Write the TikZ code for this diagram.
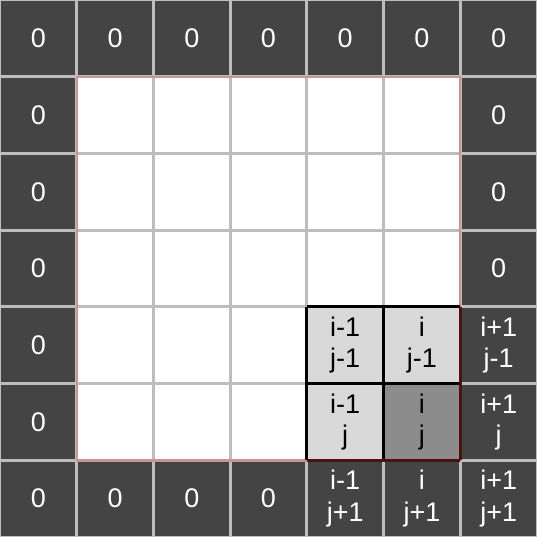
\documentclass[tikz,border=0pt]{standalone}
\usepackage{fontspec}
\setmainfont{Liberation Sans}
\definecolor{darkcell}{HTML}{444444}
\definecolor{lightcell}{HTML}{D9D9D9}
\definecolor{midcell}{HTML}{8C8C8C}
\definecolor{gridgray}{HTML}{BDBDBD}
\definecolor{redline}{HTML}{C99494}
\definecolor{darkred}{HTML}{4A1212}
\tikzset{
  cell/.style={minimum size=1cm, inner sep=0pt, outer sep=0pt, anchor=center,
    font=\fontsize{10pt}{11.6pt}\selectfont, align=center},
  dark/.style={cell, fill=darkcell, text=white},
  light/.style={cell, fill=lightcell, text=black},
  mid/.style={cell, fill=midcell, text=black},
  blank/.style={cell, fill=white},
  gridline/.style={draw=gridgray, line width=1.1pt},
  innerline/.style={draw=redline, line width=0.9pt},
  blockline/.style={draw=black, line width=1.1pt},
  blockred/.style={draw=darkred, line width=1.1pt}
}
\begin{document}
\begin{tikzpicture}
\useasboundingbox (0,0) rectangle (7,-7);
% border cells
\foreach \c in {0,...,6} {
  \node[dark] (t\c) at (\c+0.5,-0.5) {0};
}
\foreach \r in {1,...,3} {
  \node[dark] (l\r) at (0.5,-\r-0.5) {0};
  \node[dark] (r\r) at (6.5,-\r-0.5) {0};
}
\node[dark] (l4) at (0.5,-4.5) {0};
\node[dark] (l5) at (0.5,-5.5) {0};
\node[dark] (r4) at (6.5,-4.5) {i+1\\j-1};
\node[dark] (r5) at (6.5,-5.5) {i+1\\j};
\foreach \c in {0,...,3} {
  \node[dark] (b\c) at (\c+0.5,-6.5) {0};
}
\node[dark] (b4) at (4.5,-6.5) {i-1\\j+1};
\node[dark] (b5) at (5.5,-6.5) {i\\j+1};
\node[dark] (b6) at (6.5,-6.5) {i+1\\j+1};
% inner highlighted cells
\node[light] (n44) at (4.5,-4.5) {i-1\\j-1};
\node[light] (n54) at (5.5,-4.5) {i\\j-1};
\node[light] (n45) at (4.5,-5.5) {i-1\\j};
\node[mid] (n55) at (5.5,-5.5) {i\\j};
% grid
\foreach \k in {0,...,7} {
  \draw[gridline] (\k,0) -- (\k,-7);
  \draw[gridline] (0,-\k) -- (7,-\k);
}
% inner region border
\draw[innerline] (1,-1) rectangle (6,-6);
% highlighted block border
\draw[blockline] (n44.north west) -- (n54.north east);
\draw[blockline] (n44.north west) -- (n45.south west);
\draw[blockline] (n44.north east) -- (n45.south east);
\draw[blockline] (n44.south west) -- (n54.south east);
\draw[blockred] (n54.north east) -- (n55.south east);
\draw[blockred] (n45.south west) -- (n55.south east);
\end{tikzpicture}
\end{document}
